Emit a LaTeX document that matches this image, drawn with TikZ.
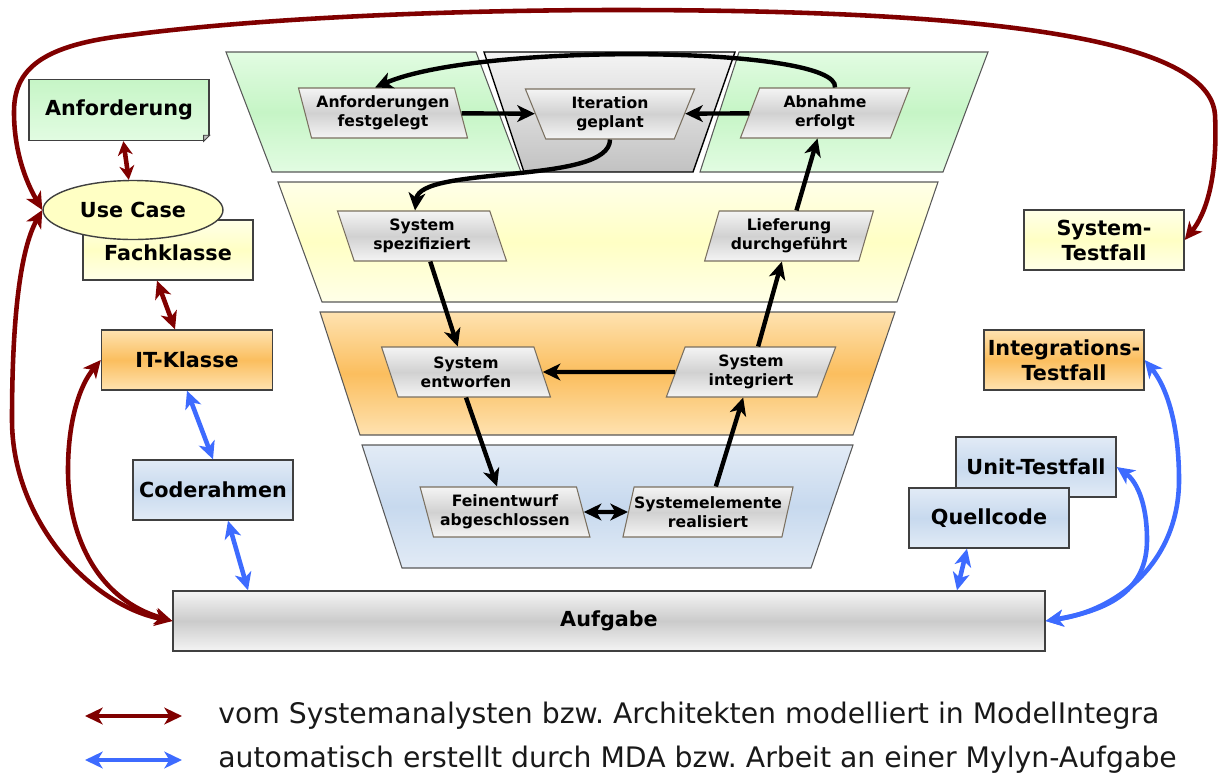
\documentclass[tikz,border=0pt]{standalone}
\usepackage{fontspec}
\setmainfont{DejaVu Sans}
\usetikzlibrary{arrows.meta,shapes.geometric,positioning}

\definecolor{modelred}{HTML}{800000}
\definecolor{mdablue}{HTML}{3D6BFF}
\definecolor{grnA}{HTML}{E2FCE2}
\definecolor{grnB}{HTML}{C6F5C6}
\definecolor{ylwA}{HTML}{FFFFE8}
\definecolor{ylwB}{HTML}{FFFFC4}
\definecolor{orgA}{HTML}{FEE2B0}
\definecolor{orgB}{HTML}{FBBE5E}
\definecolor{bluA}{HTML}{E2EBF6}
\definecolor{bluB}{HTML}{C7D9EE}
\definecolor{gryA}{HTML}{F4F4F4}
\definecolor{gryB}{HTML}{CBCBCB}
\definecolor{phaseline}{HTML}{7A7060}
\definecolor{boxline}{HTML}{404040}

\tikzset{
>={Stealth[length=10pt,width=9.5pt,inset=2.8pt]},
  greenfill/.style={top color=grnA, bottom color=grnA, middle color=grnB},
  yellowfill/.style={top color=ylwA, bottom color=ylwA, middle color=ylwB},
  orangefill/.style={top color=orgA, bottom color=orgA, middle color=orgB},
  bluefill/.style={top color=bluA, bottom color=bluA, middle color=bluB},
  grayfill/.style={top color=gryA, bottom color=gryA, middle color=gryB},
  layer/.style={
    draw=black!65,
    line width=.6pt},
  phase/.style={
    trapezium,
    trapezium stretches=true,
    draw=phaseline, line width=.6pt,
    top color=gryA, bottom color=gryA, middle color=black!18,
    minimum width=3.4cm,
    minimum height=1cm,
    inner xsep=0pt, inner ysep=1pt,
    align=center,
    font=\bfseries\fontsize{8.9}{10.6}\selectfont},
  leftphase/.style={phase, trapezium left angle=108, trapezium right angle=72},
  rightphase/.style={phase, trapezium left angle=72, trapezium right angle=108},
  midphase/.style={phase, trapezium left angle=108, trapezium right angle=108},
  artefact/.style={
    rectangle,
    draw=boxline, line width=.8pt,
    minimum width=3.2cm,
    minimum height=1.2cm,
    inner sep=1pt,
    align=center,
    font=\bfseries\fontsize{11.8}{14.2}\selectfont},
  usecase/.style={
    ellipse,
    draw=boxline, line width=.8pt,
    fill=ylwB,
    minimum width=3.6cm,
    minimum height=1.18cm,
    inner sep=0pt,
    font=\bfseries\fontsize{11.8}{14.2}\selectfont},
  flow/.style={->, line width=2.5pt},
  modelled/.style={<->, draw=modelred, line width=2.6pt},
  generated/.style={<->, draw=mdablue, line width=2.6pt},
  legend/.style={anchor=west, inner sep=0pt, text=black!90,
    font=\frenchspacing\fontsize{16.1}{19}\selectfont}
}

\begin{document}
\begin{tikzpicture}[x=0.02cm, y=-0.02cm]
  \useasboundingbox (0,0) rectangle (1220,778);

  % the four levels of the V
  \draw[layer, greenfill] (226,52) -- (476,52) -- (521,172) -- (272,172) -- cycle;
  \draw[layer, top color=gryA, bottom color=black!24, draw=black, line width=.8pt]
    (484,52) -- (735,52) -- (693,172) -- (524,172) -- cycle;
  \draw[layer, greenfill] (739,52) -- (988,52) -- (943,172) -- (700,172) -- cycle;
  \draw[layer, yellowfill] (278,182) -- (938,182) -- (897,302) -- (322,302) -- cycle;
  \draw[layer, orangefill] (320,312) -- (895,312) -- (853,435) -- (360,435) -- cycle;
  \draw[layer, bluefill] (362,445) -- (853,445) -- (811,568) -- (402,568) -- cycle;

  % milestones
  \node[leftphase] (afg) at (383,113) {Anforderungen\\festgelegt};
  \node[midphase] (itg) at (610,114) {Iteration\\geplant};
  \node[rightphase] (abn) at (825,113) {Abnahme\\erfolgt};
  \node[leftphase] (sps) at (422,236) {System\\spezifiziert};
  \node[rightphase] (lfd) at (789,236) {Lieferung\\durchgeführt};
  \node[leftphase] (swe) at (466,372) {System\\entworfen};
  \node[rightphase] (swi) at (751,372) {System\\integriert};
  \node[leftphase] (few) at (505,512) {Feinentwurf\\abgeschlossen};
  \node[rightphase] (sel) at (708,512) {Systemelemente\\realisiert};

  % artefacts on the left
  \node[artefact, top color=grnB, bottom color=grnA, minimum width=3.6cm, minimum height=1.22cm]
    (anf) at (119,110) {Anforderung};
  \fill[white] ([shift={(-7,1)}]anf.south east) -- ([shift={(1,1)}]anf.south east)
    -- ([shift={(1,-7)}]anf.south east) -- cycle;
  \draw[draw=boxline, fill=black!25, line width=.5pt] ([shift={(-6,0)}]anf.south east)
    -- ([shift={(0,-6)}]anf.south east) -- ([shift={(-6,-6)}]anf.south east) -- cycle;
  \node[artefact, yellowfill, minimum width=3.4cm] (fk) at (168,250) {\\[-2pt]Fachklasse};
  \node[usecase] (uc) at (133,210) {Use Case};
  \node[artefact, orangefill, minimum width=3.42cm] (itk) at (187,360) {IT-Klasse};
  \node[artefact, bluefill] (cr) at (213,490) {Coderahmen};
  \node[artefact, grayfill, minimum width=17.44cm] (auf) at (609,621) {Aufgabe};

  % artefacts on the right
  \node[artefact, yellowfill] (stf) at (1104,240) {System-\\Testfall};
  \node[artefact, orangefill] (itf) at (1064,360) {Integrations-\\Testfall};
  \node[artefact, bluefill] (utf) at (1036,467) {Unit-Testfall};
  \node[artefact, bluefill] (qc) at (989,518) {Quellcode};

  % process flow
  \draw[flow] (afg) -- (itg);
  \draw[flow] (abn) -- (itg);
  \draw[flow] ([shift={(10,0)}]abn.north) .. controls (840,46) and (480,42) .. ([shift={(-8,0)}]afg.north);
  \draw[flow] (itg.south) .. controls (610,185) and (420,165) .. ([shift={(-7,0)}]sps.north);
  \draw[flow] (sps) -- (swe);
  \draw[flow] (swe.south) -- ([shift={(-8,0)}]few.north);
  \draw[flow, <->] (few) -- (sel);
  \draw[flow] (sel) -- (swi);
  \draw[flow] (swi) -- (swe);
  \draw[flow] (swi) -- (lfd);
  \draw[flow] (lfd) -- (abn);

  % modelled relations
  \draw[modelled, {Stealth[length=8pt,width=8.5pt,inset=2.5pt]}-{Stealth[length=8pt,width=8.5pt,inset=2.5pt]}] (anf) -- (uc);
  \draw[modelled] ([shift={(-11,0)}]fk.south) -- ([shift={(-12,0)}]itk.north);
  \draw[modelled] (uc.west) .. controls (25,180) and (14,150) .. (14,112)
    .. controls (14,70) and (40,45) .. (130,35)
    .. controls (260,18) and (450,10) .. (620,10)
    .. controls (1000,10) and (1210,40) .. (1215,115)
    .. controls (1218,180) and (1205,215) .. (stf.east);
  \draw[modelled] (auf.west) .. controls (90,605) and (12,520) .. (12,420)
    .. controls (12,320) and (20,250) .. (uc.west);
  \draw[modelled] (auf.west) .. controls (100,600) and (68,540) .. (68,470)
    .. controls (68,420) and (80,385) .. (itk.west);

  % generated relations
  \draw[generated] (itk.south) -- (cr.north);
  \draw[generated] ([shift={(15,0)}]cr.south) -- ([shift={(-361,0)}]auf.north);
  \draw[generated] ([shift={(-22,0)}]qc.south) -- ([shift={(348,0)}]auf.north);
  \draw[generated] (auf.east) .. controls (1110,610) and (1147,590) .. (1147,540)
    .. controls (1147,500) and (1135,480) .. (utf.east);
  \draw[generated] (auf.east) .. controls (1120,610) and (1179,560) .. (1179,480)
    .. controls (1179,420) and (1165,385) .. (itf.east);

  % legend
  \coordinate (lgma) at (85,716);
  \coordinate (lgmb) at (182,716);
  \coordinate (lgga) at (85,760);
  \coordinate (lggb) at (182,760);
  \draw[modelled] (lgma) -- (lgmb);
  \draw[generated] (lgga) -- (lggb);
  \node[legend] (lgm) at (218,716) {vom Systemanalysten bzw. Architekten modelliert in ModelIntegra};
  \node[legend] (lgg) at (218,760) {automatisch erstellt durch MDA bzw. Arbeit an einer Mylyn-Aufgabe};
\end{tikzpicture}
\end{document}
